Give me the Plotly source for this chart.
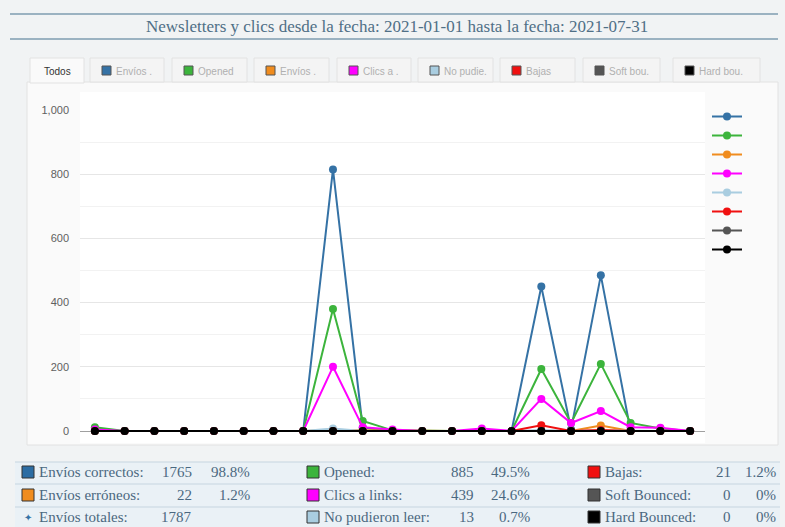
import plotly.graph_objects as go

# ---------------- data ----------------
puntos = list(range(21))
series_names = ["Envíos correctos", "Opened", "Envíos erróneos", "Clics a links",
                "No pudieron leer", "Bajas", "Soft Bounced", "Hard Bounced"]
series_colors = ["#3572a5", "#3cb43c", "#f08c1e", "#ff00ff",
                 "#a9cde0", "#f01010", "#555555", "#000000"]
envios_correctos = [0, 0, 0, 0, 0, 0, 0, 0, 815, 10, 0, 0, 0, 0, 0, 450, 5, 485, 0, 0, 0]
opened           = [12, 0, 0, 0, 0, 0, 0, 0, 380, 31, 2, 0, 0, 0, 0, 193, 25, 209, 25, 8, 0]
envios_erroneos  = [0, 0, 0, 0, 0, 0, 0, 0, 3, 2, 0, 0, 0, 0, 0, 0, 0, 17, 0, 0, 0]
clics_links      = [5, 0, 0, 0, 0, 0, 0, 0, 200, 12, 5, 0, 0, 8, 0, 100, 25, 62, 12, 10, 0]
no_pudieron      = [0, 0, 0, 0, 0, 0, 0, 0, 8, 0, 0, 0, 0, 0, 0, 3, 0, 2, 0, 0, 0]
bajas            = [0, 0, 0, 0, 0, 0, 0, 0, 0, 0, 0, 0, 0, 0, 0, 18, 0, 3, 0, 0, 0]
soft_bounced     = [0] * 21
hard_bounced     = [0] * 21
all_series = [envios_correctos, opened, envios_erroneos, clics_links,
              no_pudieron, bajas, soft_bounced, hard_bounced]

y_ticks = [0, 200, 400, 600, 800, 1000]

tab_labels = ["Todos", "Envíos .", "Opened", "Envíos .", "Clics a .",
              "No pudie.", "Bajas", "Soft bou.", "Hard bou."]
tab_colors = [None] + series_colors

title_text = "Newsletters y clics desde la fecha: 2021-01-01 hasta la fecha: 2021-07-31"

# summary table (3 columns x 3 rows)
tbl_labels = [["Envíos correctos:", "Envíos erróneos:", "Envíos totales:"],
              ["Opened:", "Clics a links:", "No pudieron leer:"],
              ["Bajas:", "Soft Bounced:", "Hard Bounced:"]]
tbl_values = [["1765", "22", "1787"],
              ["885", "439", "13"],
              ["21", "0", "0"]]
tbl_pcts = [["98.8%", "1.2%", ""],
            ["49.5%", "24.6%", "0.7%"],
            ["1.2%", "0%", "0%"]]
tbl_icons = [["#2b6ca3", "#f08c1e", "star"],
             ["#3cb43c", "#ff00ff", "#a9cde0"],
             ["#f01010", "#555555", "#000000"]]

# ---------------- geometry helpers ----------------
L, R, T, B = 80, 705, 110, 443
W, H = R - L, B - T


def px(x):
    return (x - L) / W


def py(y):
    return (B - y) / H


fig = go.Figure()
for name, color, vals in zip(series_names, series_colors, all_series):
    fig.add_trace(go.Scatter(
        x=puntos, y=vals, name=" ", mode="lines+markers",
        line=dict(color=color, width=2),
        marker=dict(color=color, size=8),
        hoverinfo="skip",
    ))

shapes = []
annotations = []
page_bg = "#f1f3f4"
text_col = "#4a6880"

# title lines
for yy in (14, 39):
    shapes.append(dict(type="line", xref="paper", yref="paper",
                       x0=px(10), x1=px(778), y0=py(yy), y1=py(yy),
                       line=dict(color="#7e9cb1", width=1.5), layer="below"))
annotations.append(dict(text=title_text, xref="paper", yref="paper",
                        x=px(397), y=py(27), xanchor="center", yanchor="middle",
                        showarrow=False,
                        font=dict(family="Liberation Serif", size=17, color="#4f6f86")))

# chart panel
shapes.append(dict(type="rect", xref="paper", yref="paper",
                   x0=px(27), x1=px(778), y0=py(82), y1=py(445),
                   fillcolor="#fafafa", line=dict(color="#e2e2e2", width=1), layer="below"))
# plot white area
shapes.append(dict(type="rect", xref="paper", yref="paper",
                   x0=px(L), x1=px(R), y0=py(92), y1=py(B),
                   fillcolor="#ffffff", line=dict(width=0), layer="below"))

# tabs
tab_x = [(30, 84), (90, 164), (172, 247), (254, 329), (337, 411),
         (418, 493), (500, 575), (583, 660), (673, 760)]
for i, (lab, col, (x0, x1)) in enumerate(zip(tab_labels, tab_colors, tab_x)):
    active = i == 0
    shapes.append(dict(type="rect", xref="paper", yref="paper",
                       x0=px(x0), x1=px(x1), y0=py(58), y1=py(82 if not active else 83),
                       fillcolor="#fafafa" if active else "#f4f4f4",
                       line=dict(color="#e2e2e2", width=1), layer="below"))
    if active:
        annotations.append(dict(text=lab, xref="paper", yref="paper",
                                x=px((x0 + x1) / 2), y=py(71), xanchor="center",
                                yanchor="middle", showarrow=False,
                                font=dict(family="Liberation Sans", size=10, color="#333333")))
    else:
        shapes.append(dict(type="rect", xref="paper", yref="paper",
                           x0=px(x0 + 12), x1=px(x0 + 21), y0=py(66), y1=py(75),
                           fillcolor=col, line=dict(color="#555555", width=1), layer="below"))
        annotations.append(dict(text=lab, xref="paper", yref="paper",
                                x=px(x0 + 24), y=py(71), xanchor="left",
                                yanchor="middle", showarrow=False,
                                font=dict(family="Liberation Sans", size=10, color="#b0b0b0")))

# summary table
row_tops = [462, 484, 507]
row_bots = [484, 507, 527]
for rt, rb in zip(row_tops, row_bots):
    shapes.append(dict(type="rect", xref="paper", yref="paper",
                       x0=px(15), x1=px(780), y0=py(rt), y1=py(rb),
                       fillcolor="#eaf1f6", line=dict(width=0), layer="below"))
    shapes.append(dict(type="line", xref="paper", yref="paper",
                       x0=px(15), x1=px(780), y0=py(rt), y1=py(rt),
                       line=dict(color="#c6d5e0", width=1.2), layer="below"))

col_icon_x = [22, 307, 588]
col_num_r = [194, 476, 733]
col_pct_r = [252, 532, 778]
row_y = [472, 495, 517]
tfont = dict(family="Liberation Serif", size=15, color=text_col)
for c in range(3):
    for r in range(3):
        yc = row_y[r]
        icon = tbl_icons[c][r]
        ix = col_icon_x[c]
        if icon == "star":
            annotations.append(dict(text="✦", xref="paper", yref="paper",
                                    x=px(ix + 6), y=py(yc), xanchor="center", yanchor="middle",
                                    showarrow=False,
                                    font=dict(family="DejaVu Sans", size=10, color="#3572a5")))
        else:
            shapes.append(dict(type="rect", xref="paper", yref="paper",
                               x0=px(ix), x1=px(ix + 12), y0=py(yc - 6), y1=py(yc + 6),
                               fillcolor=icon, line=dict(color="#333333", width=1), layer="below"))
        annotations.append(dict(text=tbl_labels[c][r], xref="paper", yref="paper",
                                x=px(ix + 15), y=py(yc), xanchor="left", yanchor="middle",
                                showarrow=False, font=tfont))
        annotations.append(dict(text=tbl_values[c][r], xref="paper", yref="paper",
                                x=px(col_num_r[c]), y=py(yc), xanchor="right", yanchor="middle",
                                showarrow=False, font=tfont))
        if tbl_pcts[c][r]:
            annotations.append(dict(text=tbl_pcts[c][r], xref="paper", yref="paper",
                                    x=px(col_pct_r[c]), y=py(yc), xanchor="right",
                                    yanchor="middle", showarrow=False, font=tfont))

y_bottom = -(B - 431) * 1000 / (431 - 110)

fig.update_layout(
    width=785, height=527,
    margin=dict(l=L, r=785 - R, t=T, b=527 - B, pad=0),
    paper_bgcolor=page_bg,
    plot_bgcolor="rgba(0,0,0,0)",
    shapes=shapes,
    annotations=annotations,
    showlegend=True,
    legend=dict(x=px(707), y=py(102), xanchor="left", yanchor="top",
                bgcolor="rgba(0,0,0,0)", tracegroupgap=0,
                font=dict(size=12), itemwidth=30),
    xaxis=dict(range=[-0.5, 20.5], showgrid=False, showticklabels=False,
               zeroline=False, showline=False, fixedrange=True),
    yaxis=dict(range=[y_bottom, 1000], tickvals=y_ticks, tickformat=",d",
               showgrid=True, gridcolor="#e6e6e6", gridwidth=1,
               minor=dict(dtick=100, showgrid=True, gridcolor="#f2f2f2"),
               zeroline=True, zerolinecolor="#a0a0a0", zerolinewidth=1,
               showline=False, ticks="", ticklabelstandoff=10,
               tickfont=dict(family="Liberation Sans", size=11, color="#606060"),
               fixedrange=True),
)

fig.write_html("out.html", config={"displayModeBar": False},
               post_script="document.body.style.margin='0';document.body.style.background='#f1f3f4';")
